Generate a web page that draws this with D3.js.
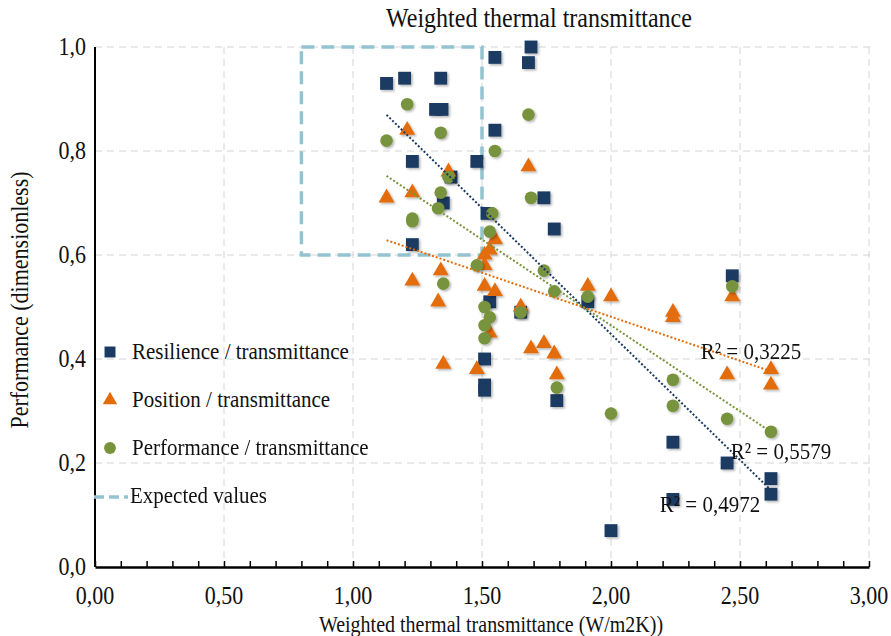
<!DOCTYPE html>
<html>
<head>
<meta charset="utf-8">
<script src="https://cdn.jsdelivr.net/npm/d3@7"></script>
<style>
  body { margin: 0; background: #fff; }
  text { font-family: "Liberation Serif", "Times New Roman", serif; fill: #111; }
</style>
</head>
<body>
<svg id="chart" width="891" height="636"></svg>
<script>
// data (x = weighted transmittance, y = performance)
var resilience = [
  [1.13,0.93],[1.20,0.94],[1.34,0.94],[1.32,0.88],[1.345,0.88],[1.23,0.78],[1.48,0.78],
  [1.55,0.98],[1.69,1.00],[1.68,0.97],[1.55,0.84],[1.74,0.71],[1.78,0.65],[1.38,0.75],
  [1.35,0.70],[1.52,0.68],[1.23,0.62],[1.53,0.51],[1.51,0.40],[1.51,0.35],[1.51,0.34],
  [1.65,0.49],[1.91,0.51],[1.79,0.32],[2.00,0.07],[2.47,0.56],[2.24,0.24],[2.45,0.20],
  [2.62,0.17],[2.62,0.14],[2.24,0.13]
];
var position = [
  [1.13,0.71],[1.21,0.84],[1.23,0.72],[1.23,0.55],[1.34,0.57],[1.33,0.51],[1.35,0.39],
  [1.48,0.38],[1.37,0.76],[1.55,0.63],[1.53,0.61],[1.51,0.60],[1.51,0.58],[1.51,0.54],
  [1.55,0.53],[1.53,0.45],[1.65,0.50],[1.69,0.42],[1.74,0.43],[1.78,0.41],[1.79,0.37],
  [1.91,0.54],[1.68,0.77],[2.00,0.52],[2.24,0.49],[2.24,0.48],[2.47,0.52],[2.45,0.37],
  [2.62,0.38],[2.62,0.35]
];
var performance = [
  [1.21,0.89],[1.13,0.82],[1.34,0.835],[1.55,0.80],[1.37,0.75],[1.34,0.72],[1.33,0.69],
  [1.23,0.67],[1.23,0.665],[1.54,0.68],[1.53,0.645],[1.48,0.58],[1.35,0.545],[1.51,0.50],
  [1.53,0.48],[1.51,0.465],[1.51,0.44],[1.74,0.57],[1.78,0.53],[1.65,0.49],[1.91,0.52],
  [1.79,0.345],[1.68,0.87],[1.69,0.71],[2.00,0.295],[2.47,0.54],[2.24,0.36],[2.24,0.31],
  [2.45,0.285],[2.62,0.26]
];
var seriesNames = ["Resilience / transmittance", "Position / transmittance", "Performance / transmittance"];
var rSquared = ["R² = 0,4972", "R² = 0,3225", "R² = 0,5579"];
// expected values box: x from 0.8 to 1.5, y from 0.6 to 1.0
var expectedX = [0.8, 1.5];
var expectedY = [0.6, 1.0];
var xTicks = [0, 0.5, 1, 1.5, 2, 2.5, 3];
var yTicks = [0, 0.2, 0.4, 0.6, 0.8, 1.0];

var colors = ["#1b3a63", "#e36c0a", "#77933c"];
var boxColor = "#93c3d0";

var svg = d3.select('#chart');
var plotL = 95, plotR = 870, plotT = 47, plotB = 567;
var stretch = 1.12; // the source text is a bit taller than plain Times

var xScale = d3.scaleLinear().domain([0, 3]).range([plotL, plotL + 774]);
var yScale = d3.scaleLinear().domain([0, 1]).range([plotB, plotT]);
var fmt = function(d, n) { return d.toFixed(n).replace('.', ','); };

// helper: text placed at (x, y) and stretched in glyph height
function label(parent, x, y, str, size, anchor, rot) {
    return parent.append('text')
        .attr('transform', 'translate(' + x + ',' + y + ')' + (rot ? ' rotate(' + rot + ')' : '') +
              ' scale(1,' + stretch + ')')
        .attr('text-anchor', anchor || 'start')
        .style('font-size', size + 'px')
        .text(str);
}

var defs = svg.append('defs');
var shadow = defs.append('filter').attr('id', 'shadow')
    .attr('x', '-50%').attr('y', '-50%').attr('width', '200%').attr('height', '200%');
shadow.append('feDropShadow').attr('dx', 1.5).attr('dy', 1.5)
    .attr('stdDeviation', 1).attr('flood-color', '#000').attr('flood-opacity', 0.3);

// gridlines
svg.append('g').selectAll('line')
    .data(yTicks.slice(1))
    .enter().append('line')
    .attr('x1', plotL).attr('x2', plotR)
    .attr('y1', d => yScale(d)).attr('y2', d => yScale(d))
    .attr('stroke', '#d4d4d4').attr('stroke-width', 1).attr('stroke-dasharray', '7,5');
svg.append('g').selectAll('line')
    .data(xTicks.slice(1))
    .enter().append('line')
    .attr('x1', d => xScale(d)).attr('x2', d => xScale(d))
    .attr('y1', plotT).attr('y2', plotB)
    .attr('stroke', '#d4d4d4').attr('stroke-width', 1).attr('stroke-dasharray', '7,5');

// expected values box
svg.append('rect')
    .attr('x', xScale(expectedX[0]))
    .attr('y', yScale(expectedY[1]))
    .attr('width', xScale(expectedX[1]) - xScale(expectedX[0]))
    .attr('height', yScale(expectedY[0]) - yScale(expectedY[1]))
    .attr('fill', 'none')
    .attr('stroke', boxColor).attr('stroke-width', 3.5)
    .attr('stroke-dasharray', '13,7');

// axes
svg.append('line').attr('x1', plotL).attr('x2', plotL).attr('y1', plotT).attr('y2', plotB)
    .attr('stroke', '#000').attr('stroke-width', 2);
var xAxis = d3.axisBottom(xScale).tickValues(d3.range(0, 31).map(d => d / 10))
    .tickSize(-6).tickSizeOuter(0).tickFormat('');
svg.append('g').attr('transform', 'translate(0,' + plotB + ')').call(xAxis)
    .call(g => g.select('.domain').attr('stroke-width', 2.5))
    .call(g => g.selectAll('.tick line').attr('stroke-width', 1.5));

var xLabels = svg.append('g');
xTicks.forEach(d => label(xLabels, xScale(d), 604, fmt(d, 2), 22, 'middle'));
var yLabels = svg.append('g');
yTicks.forEach(d => label(yLabels, 86, yScale(d) + 8, fmt(d, 1), 22, 'end'));

// markers
var symbolTypes = [d3.symbolSquare, d3.symbolTriangle, d3.symbolCircle];
var symbolSizes = [165, 110, 125];
[resilience, position, performance].forEach(function(data, i) {
    var sym = d3.symbol().type(symbolTypes[i]).size(symbolSizes[i]);
    svg.append('g').attr('filter', 'url(#shadow)').selectAll('path')
        .data(data).enter().append('path')
        .attr('d', sym)
        .attr('transform', d => 'translate(' + xScale(d[0]) + ',' + yScale(d[1]) + ')')
        .attr('fill', colors[i]);
});

// linear trend lines
function fit(data) {
    var mx = d3.mean(data, d => d[0]), my = d3.mean(data, d => d[1]);
    var sxy = d3.sum(data, d => (d[0] - mx) * (d[1] - my));
    var sxx = d3.sum(data, d => (d[0] - mx) * (d[0] - mx));
    var b = sxy / sxx;
    var a = my - b * mx;
    var ext = d3.extent(data, d => d[0]);
    return ext.map(x => [x, a + b * x]);
}
var line = d3.line().x(d => xScale(d[0])).y(d => yScale(d[1]));
[resilience, position, performance].forEach(function(data, i) {
    svg.append('path').datum(fit(data))
        .attr('d', line)
        .attr('fill', 'none')
        .attr('stroke', colors[i]).attr('stroke-width', 2)
        .attr('stroke-dasharray', '2,2');
});

// R² labels
var rLabelPos = [[710, 512], [751, 359], [781, 459]];
var rG = svg.append('g');
rSquared.forEach((d, i) => label(rG, rLabelPos[i][0], rLabelPos[i][1], d, 21, 'middle'));

// legend
var legend = svg.append('g').attr('transform', 'translate(110,352)');
seriesNames.forEach(function(name, i) {
    var row = legend.append('g').attr('transform', 'translate(0,' + (i * 48) + ')');
    row.append('path')
        .attr('d', d3.symbol().type(symbolTypes[i]).size([120, 90, 110][i]))
        .attr('fill', colors[i]);
    label(row, 22, 7, name, 21);
});
var lastRow = legend.append('g').attr('transform', 'translate(0,' + (3 * 48) + ')');
lastRow.append('line').attr('x1', -16).attr('x2', 18).attr('y1', 1).attr('y2', 1)
    .attr('stroke', boxColor).attr('stroke-width', 3.5).attr('stroke-dasharray', '10,5');
label(lastRow, 20, 7, 'Expected values', 21);

// titles
label(svg, 539, 27, 'Weighted thermal transmittance', 24, 'middle');
label(svg, 491, 632, 'Weighted thermal transmittance (W/m2K))', 20, 'middle');
label(svg, 28, 300, 'Performance (dimensionless)', 22, 'middle', -90);
</script>
</body>
</html>
